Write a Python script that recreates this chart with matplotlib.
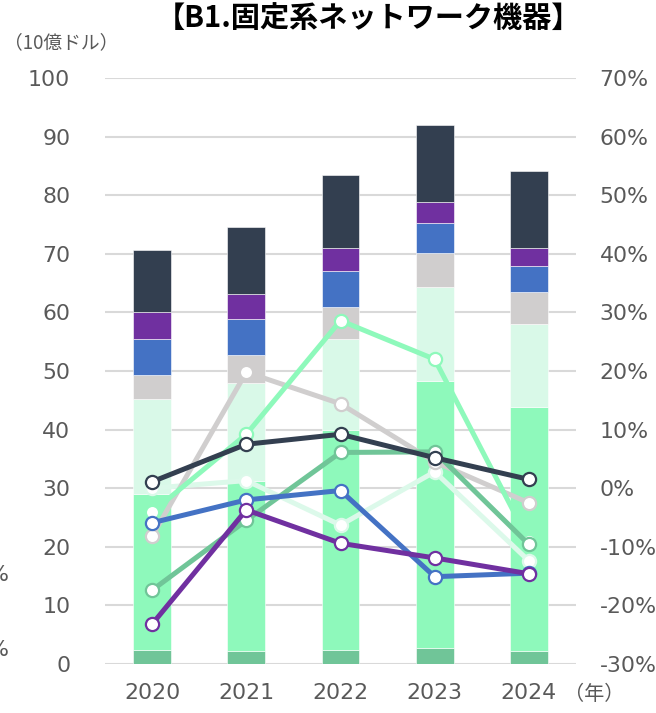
import matplotlib
matplotlib.use("Agg")
import matplotlib.pyplot as plt
import numpy as np

plt.rcParams['font.family'] = ['DejaVu Sans', 'Noto Sans CJK JP']

years = ['2020', '2021', '2022', '2023', '2024']

# Stacked market size segments (10億ドル), bottom to top
seg_dark_green = [2.4, 2.2, 2.4, 2.7, 2.2]
seg_bright_green = [26.6, 29.1, 37.6, 45.6, 41.7]
seg_pale_green = [16.2, 16.6, 15.4, 16.0, 14.1]
seg_gray = [4.1, 4.8, 5.5, 5.8, 5.5]
seg_blue = [6.2, 6.1, 6.1, 5.1, 4.5]
seg_purple = [4.6, 4.3, 4.0, 3.6, 3.0]
seg_navy = [10.5, 11.4, 12.4, 13.1, 13.2]

# Growth rates (%), right axis
g_pale_green = [0.0, 1.3, -6.3, 2.8, -12.4]
g_gray = [-8.2, 19.8, 14.4, 4.5, -2.5]
g_bright_green = [-4.1, 9.2, 28.6, 22.0, -9.0]
g_dark_green = [-17.4, -5.5, 6.1, 6.2, -9.6]
g_blue = [-5.9, -2.0, -0.4, -15.1, -14.5]
g_purple = [-23.2, -3.7, -9.4, -11.9, -14.6]
g_navy = [1.1, 7.5, 9.2, 5.2, 1.5]

left_ticks = [0, 10, 20, 30, 40, 50, 60, 70, 80, 90, 100]
right_ticks = [-30, -20, -10, 0, 10, 20, 30, 40, 50, 60, 70]

C_DARK_GREEN = '#70c598'
C_BRIGHT_GREEN = '#8ef9bb'
C_PALE_GREEN = '#d9f9e8'
C_PALE_LINE = '#dcf9ea'
C_GRAY = '#d0cece'
C_BLUE = '#4472c4'
C_PURPLE = '#7030a0'
C_NAVY = '#333f50'
TXT = '#595959'
FS = 15.8

fig = plt.figure(figsize=(6.56, 7.13), dpi=100)
ax = fig.add_axes([105 / 656, 1 - 664 / 713, 471 / 656, 586 / 713])
ax2 = ax.twinx()

x = np.arange(len(years))
segments = [
    (seg_dark_green, C_DARK_GREEN),
    (seg_bright_green, C_BRIGHT_GREEN),
    (seg_pale_green, C_PALE_GREEN),
    (seg_gray, C_GRAY),
    (seg_blue, C_BLUE),
    (seg_purple, C_PURPLE),
    (seg_navy, C_NAVY),
]
bottom = np.zeros(len(years))
for vals, col in segments:
    ax.bar(x, vals, width=0.4, bottom=bottom, color=col,
           edgecolor='#ffffff', linewidth=0.4, zorder=2)
    bottom += np.array(vals)

ax.set_ylim(0, 100)
ax.set_yticks(left_ticks)
ax.set_xlim(-0.5, 4.5)
ax.set_xticks(x)
ax.set_xticklabels(years)
ax.grid(axis='y', color='#d9d9d9', linewidth=1.5, zorder=0)
ax.set_axisbelow(True)
for s in ax.spines.values():
    s.set_visible(False)
for s in ax2.spines.values():
    s.set_visible(False)
ax.tick_params(axis='y', length=0, pad=25, labelsize=FS, labelcolor=TXT)
ax.tick_params(axis='x', length=0, pad=14, labelsize=FS, labelcolor=TXT)

lines = [
    (g_pale_green, C_PALE_LINE),
    (g_gray, C_GRAY),
    (g_bright_green, C_BRIGHT_GREEN),
    (g_dark_green, C_DARK_GREEN),
    (g_blue, C_BLUE),
    (g_purple, C_PURPLE),
    (g_navy, C_NAVY),
]
for i, (vals, col) in enumerate(lines):
    ax2.plot(x, vals, color=col, linewidth=3.6, marker='o', markersize=9.5,
             markerfacecolor='white', markeredgecolor=col, markeredgewidth=1.6,
             zorder=3 + i, solid_capstyle='round')

ax2.set_ylim(-30, 70)
ax2.set_yticks(right_ticks)
ax2.set_yticklabels([f'{t}%' for t in right_ticks])
ax2.tick_params(axis='y', length=0, pad=17, labelsize=FS, labelcolor=TXT)
for lbl in ax2.get_yticklabels():
    lbl.set_horizontalalignment('left')

fig.text(368 / 656, 1 - 19 / 713, '【B1.固定系ネットワーク機器】',
         family=['Noto Sans CJK JP'], fontweight='bold', fontsize=21,
         color='#000000', ha='center', va='center')
fig.text(4 / 656, 1 - 43 / 713, '（10億ドル）', family=['Noto Sans CJK JP'],
         fontsize=13.5, color=TXT, ha='left', va='center')
fig.text(594 / 656, 1 - 694 / 713, '（年）', family=['Noto Sans CJK JP'],
         fontsize=14.5, color=TXT, ha='center', va='center')
fig.text(9 / 656, 1 - 575 / 713, '%', fontsize=FS, color=TXT,
         ha='right', va='center')
fig.text(9 / 656, 1 - 650 / 713, '%', fontsize=FS, color=TXT,
         ha='right', va='center')

fig.savefig('out.png', dpi=100)
